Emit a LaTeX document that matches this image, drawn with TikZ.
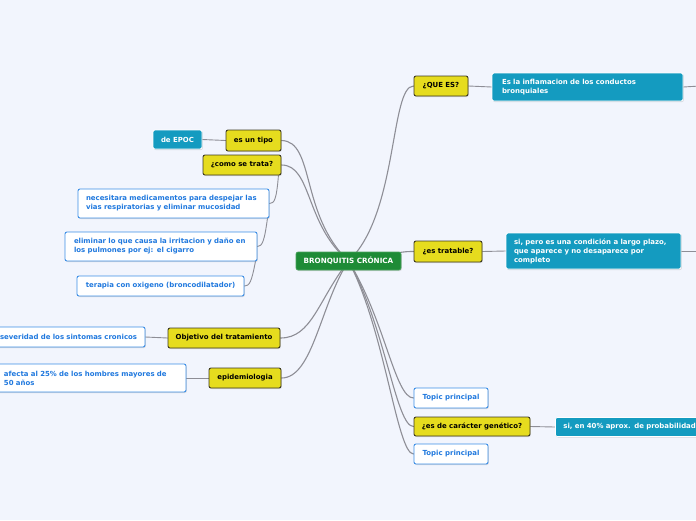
\documentclass[tikz,border=0pt]{standalone}
\usepackage{fontspec}
\setmainfont{DejaVu Sans}
\usetikzlibrary{shadows}
\pgfdeclarelayer{back}
\pgfdeclarelayer{lines}
\pgfsetlayers{back,lines,main}
\definecolor{bgc}{HTML}{F2F5FD}
\definecolor{yelc}{HTML}{E6DC1E}
\definecolor{yelb}{HTML}{3E3A20}
\definecolor{tealc}{HTML}{149BC0}
\definecolor{bluec}{HTML}{3C8EE6}
\definecolor{bluet}{HTML}{1F78DE}
\definecolor{greenc}{HTML}{1E8B36}
\definecolor{linec}{HTML}{8E8E96}
\tikzset{
  base/.style={rounded corners=2pt, inner sep=0pt, font=\bfseries\fontsize{6.95}{9}\selectfont,
     drop shadow={shadow xshift=0.8pt, shadow yshift=-1pt, opacity=0.25}},
  rootbox/.style={base, fill=greenc, draw=greenc!80!white, line width=0.6pt, text=white, font=\bfseries\fontsize{7.2}{9}\selectfont},
  yelbox/.style={base, fill=yelc, draw=yelb, line width=0.9pt, text=black, minimum height=20},
  tealbox/.style={base, fill=tealc, draw=white, line width=0.8pt, text=white, align=left},
  wbox/.style={base, fill=white, draw=bluec, line width=0.9pt, text=bluet, align=left, minimum height=20},
  conn/.style={draw=linec, line width=1.1pt, line cap=round},
  thin/.style={draw=linec, line width=0.9pt, line cap=round}
}
\begin{document}
\begin{tikzpicture}[x=1pt,y=-1pt]
\begin{pgfonlayer}{back}
\fill[bgc] (0,0) rectangle (696,520);
\end{pgfonlayer}
\useasboundingbox (0,0) rectangle (696,520);

% nodes
\node[rootbox, minimum width=105, minimum height=18] (root) at (348.5,261) {BRONQUITIS CRÓNICA};

\node[yelbox, minimum width=54] (quees) at (441,86) {¿QUE ES?};
\node[tealbox, minimum width=191, minimum height=28, text width=171] (inflam) at (587.5,87) {\mbox{Es la inflamacion de los conductos}\\\mbox{bronquiales}};

\node[yelbox, minimum width=68, minimum height=21] (tratable) at (448,251.5) {¿es tratable?};
\node[tealbox, minimum width=175, minimum height=36, text width=159] (sipero) at (593.5,251) {\mbox{si, pero es una condición a largo plazo,}\\\mbox{que aparece y no desaparece por}\\\mbox{completo}};

\node[wbox, minimum width=74, align=center] (topicA) at (451,398) {Topic principal};
\node[yelbox, minimum width=116, minimum height=19] (genetico) at (472,426.5) {¿es de carácter genético?};
\node[tealbox, minimum width=170, minimum height=19, text width=154, anchor=west] (siforty) at (555,427) {\mbox{si, en 40\% aprox. de probabilidad}};
\node[wbox, minimum width=74, align=center] (topicB) at (451,454) {Topic principal};

\node[yelbox, minimum width=55, minimum height=21] (tipo) at (253.5,140.5) {es un tipo};
\node[tealbox, minimum width=49, minimum height=19, align=center] (epoc) at (177.5,139.5) {de EPOC};

\node[yelbox, minimum width=78] (como) at (242,165) {¿como se trata?};
\node[wbox, minimum width=191, minimum height=29, text width=175] (nec) at (173.5,203.5) {\mbox{necesitara medicamentos para despejar las}\\\mbox{vias respiratorias y eliminar mucosidad}};
\node[wbox, minimum width=192, minimum height=29, text width=174] (elim) at (161,246.5) {\mbox{eliminar lo que causa la irritacion y daño en}\\\mbox{los pulmones por ej: el cigarro}};
\node[wbox, minimum width=167, align=center] (terapia) at (160.5,286) {terapia con oxigeno (broncodilatador)};

\node[yelbox, minimum width=112] (objetivo) at (224,338) {Objetivo del tratamiento};
\node[wbox, minimum width=153, text width=137] (severidad) at (68.5,337) {\mbox{severidad de los sintomas cronicos}};

\node[yelbox, minimum width=72] (epid) at (245,378) {epidemiologia};
\node[wbox, minimum width=190, minimum height=28, text width=174] (afecta) at (91,378) {\mbox{afecta al 25\% de los hombres mayores de}\\\mbox{50 años}};

\coordinate (offA) at (700,86);
\coordinate (offB) at (700,251);

% connectors
\begin{pgfonlayer}{lines}
% root to main topics
\draw[conn] (root.center) .. controls (398,215) and (390,86) .. (quees.west);
\draw[conn] (root.center) .. controls (385,256) and (400,251) .. (tratable.west);
\draw[conn] (root.center) .. controls (385,320) and (395,398) .. (topicA.west);
\draw[conn] (root.center) .. controls (385,325) and (396,427) .. (genetico.west);
\draw[conn] (root.center) .. controls (385,330) and (397,454) .. (topicB.west);
\draw[conn] (root.center) .. controls (300,215) and (315,141) .. (tipo.east);
\draw[conn] (root.center) .. controls (305,225) and (312,165) .. (como.east);
\draw[conn] (root.center) .. controls (318,300) and (312,338) .. (objetivo.east);
\draw[conn] (root.center) .. controls (320,305) and (313,378) .. (epid.east);
% main topics to details
\draw[thin] (quees.east) -- (inflam.west);
\draw[thin] (inflam.east) -- (offA);
\draw[thin] (tratable.east) -- (sipero.west);
\draw[thin] (sipero.east) -- (offB);
\draw[thin] (genetico.east) -- (siforty.west);
\draw[thin] (tipo.west) -- (epoc.east);
\draw[thin] (objetivo.west) -- (severidad.east);
\draw[thin] (epid.west) -- (afecta.east);
% como se trata children
\draw[thin] ([xshift=-3pt]como.south east) .. controls ([xshift=-5pt,yshift=-24pt]como.south east) and ([xshift=5pt]nec.east) .. (nec.east);
\draw[thin] ([xshift=-2pt]nec.south east) .. controls ([xshift=-5pt,yshift=-22pt]nec.south east) and ([xshift=5pt]elim.east) .. (elim.east);
\draw[thin] ([xshift=-2pt]elim.south east) .. controls ([xshift=-6pt,yshift=-21pt]elim.south east) and ([xshift=5pt]terapia.east) .. (terapia.east);
\end{pgfonlayer}
\end{tikzpicture}
\end{document}
